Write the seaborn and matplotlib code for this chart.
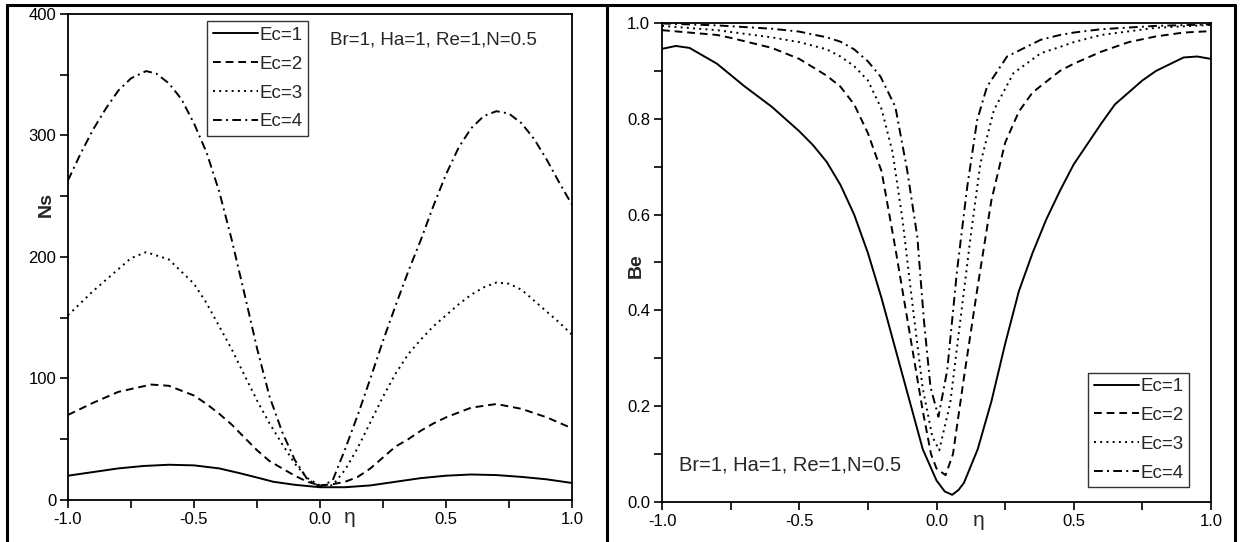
import numpy as np
import pandas as pd
import matplotlib
matplotlib.use("Agg")
import matplotlib.pyplot as plt
from matplotlib.lines import Line2D
import seaborn as sns

# ---------------- data ----------------
labels = ["Ec=1", "Ec=2", "Ec=3", "Ec=4"]
annot = "Br=1, Ha=1, Re=1,N=0.5"

# Left panel: Ns vs eta
ns_eta_1 = [-1.0, -0.9, -0.8, -0.7, -0.6, -0.5, -0.4, -0.317, -0.25, -0.185, -0.1, 0.0, 0.1, 0.2, 0.3, 0.4, 0.5, 0.6, 0.7, 0.8, 0.9, 1.0]
ns_val_1 = [20, 23, 26, 28, 29, 28.5, 26, 22, 18.5, 15, 12.5, 10.5, 10.5, 12, 15, 18, 20, 21, 20.5, 19, 17, 14]

ns_eta_2 = [-1.0, -0.9, -0.8, -0.67, -0.6, -0.5, -0.45, -0.4, -0.35, -0.317, -0.25, -0.2, -0.15, -0.1, -0.05, 0.0, 0.05, 0.1, 0.15, 0.2, 0.25, 0.3, 0.35, 0.4, 0.45, 0.5, 0.6, 0.7, 0.8, 0.9, 1.0]
ns_val_2 = [70, 80, 89, 95, 94, 86, 79, 71, 62, 55, 41, 32, 26, 20, 15, 12, 13, 15, 19, 26, 35, 44, 50, 57, 63, 68, 76, 79, 75, 68, 59]

ns_eta_3 = [-1.0, -0.9, -0.8, -0.75, -0.69, -0.6, -0.5, -0.45, -0.4, -0.35, -0.317, -0.25, -0.2, -0.15, -0.1, -0.05, 0.0, 0.05, 0.1, 0.15, 0.2, 0.25, 0.3, 0.35, 0.4, 0.45, 0.5, 0.55, 0.6, 0.65, 0.7, 0.75, 0.8, 0.85, 0.9, 0.95, 1.0]
ns_val_3 = [152, 172, 190, 199, 204, 198, 178, 162, 143, 124, 110, 82, 63, 46, 30, 18, 12, 12, 25, 43, 64, 85, 104, 120, 132, 143, 152, 161, 169, 175, 179, 178, 173, 164, 155, 146, 136]

ns_eta_4 = [-1.0, -0.95, -0.9, -0.85, -0.8, -0.75, -0.69, -0.65, -0.6, -0.55, -0.5, -0.45, -0.4, -0.35, -0.3, -0.25, -0.2, -0.15, -0.1, -0.05, 0.0, 0.05, 0.1, 0.15, 0.2, 0.25, 0.3, 0.35, 0.4, 0.45, 0.5, 0.55, 0.6, 0.65, 0.7, 0.75, 0.8, 0.85, 0.9, 0.95, 1.0]
ns_val_4 = [263, 285, 305, 322, 337, 347, 353, 351, 343, 330, 310, 286, 254, 214, 170, 125, 85, 56, 33, 17, 11, 16, 42, 70, 100, 131, 160, 188, 214, 242, 268, 290, 306, 316, 320, 318, 310, 297, 280, 261, 243]

# Right panel: Be vs eta
be_eta_1 = [-1.0, -0.95, -0.9, -0.8, -0.7, -0.6, -0.5, -0.45, -0.4, -0.35, -0.3, -0.25, -0.2, -0.15, -0.1, -0.05, 0.0, 0.03, 0.057, 0.08, 0.1, 0.15, 0.2, 0.25, 0.3, 0.35, 0.4, 0.45, 0.5, 0.6, 0.65, 0.75, 0.8, 0.9, 0.95, 1.0]
be_val_1 = [0.946, 0.952, 0.948, 0.915, 0.868, 0.825, 0.774, 0.745, 0.71, 0.662, 0.6, 0.52, 0.425, 0.32, 0.215, 0.11, 0.045, 0.022, 0.015, 0.025, 0.04, 0.11, 0.21, 0.33, 0.44, 0.52, 0.59, 0.65, 0.705, 0.79, 0.83, 0.88, 0.9, 0.928, 0.93, 0.925]

be_eta_2 = [-1.0, -0.8, -0.75, -0.6, -0.5, -0.4, -0.35, -0.3, -0.25, -0.2, -0.15, -0.1, -0.05, -0.02, 0.0, 0.033, 0.06, 0.1, 0.15, 0.2, 0.25, 0.3, 0.35, 0.45, 0.5, 0.6, 0.7, 0.8, 0.9, 1.0]
be_val_2 = [0.985, 0.975, 0.969, 0.948, 0.925, 0.89, 0.867, 0.83, 0.77, 0.69, 0.53, 0.36, 0.19, 0.10, 0.07, 0.056, 0.1, 0.26, 0.45, 0.63, 0.75, 0.815, 0.855, 0.9, 0.915, 0.94, 0.96, 0.972, 0.98, 0.983]

be_eta_3 = [-1.0, -0.8, -0.6, -0.5, -0.4, -0.35, -0.3, -0.25, -0.2, -0.16, -0.124, -0.088, -0.051, -0.015, 0.01, 0.05, 0.087, 0.124, 0.16, 0.209, 0.28, 0.38, 0.45, 0.5, 0.6, 0.8, 1.0]
be_val_3 = [0.994, 0.985, 0.97, 0.96, 0.945, 0.93, 0.91, 0.88, 0.82, 0.73, 0.59, 0.415, 0.24, 0.136, 0.108, 0.207, 0.38, 0.553, 0.707, 0.818, 0.895, 0.937, 0.95, 0.96, 0.975, 0.99, 0.996]

be_eta_4 = [-1.0, -0.8, -0.6, -0.5, -0.4, -0.35, -0.3, -0.25, -0.204, -0.15, -0.107, -0.07, -0.046, -0.022, 0.007, 0.039, 0.075, 0.112, 0.148, 0.184, 0.257, 0.38, 0.45, 0.5, 0.6, 0.8, 1.0]
be_val_4 = [0.999, 0.995, 0.988, 0.982, 0.97, 0.961, 0.945, 0.92, 0.888, 0.825, 0.693, 0.554, 0.38, 0.24, 0.178, 0.275, 0.484, 0.658, 0.797, 0.867, 0.93, 0.965, 0.975, 0.98, 0.987, 0.994, 0.997]

x_ticks = [-1.0, -0.5, 0.0, 0.5, 1.0]
ns_ticks = [0, 100, 200, 300, 400]
be_ticks = [0.0, 0.2, 0.4, 0.6, 0.8, 1.0]

# ---------------- style ----------------
sns.set_style("ticks")
plt.rcParams['font.family'] = ['Liberation Sans', 'DejaVu Sans']
plt.rcParams['axes.linewidth'] = 1.3

dash_styles = [None, (4, 2.5), (1, 2.2), (4.5, 2.2, 1, 2.2)]
LW = 1.4

def frame(eta_list, val_list):
    rows = []
    for lab, e, v in zip(labels, eta_list, val_list):
        rows.append(pd.DataFrame({"eta": e, "val": v, "Ec": lab}))
    return pd.concat(rows, ignore_index=True)

ns_df = frame([ns_eta_1, ns_eta_2, ns_eta_3, ns_eta_4], [ns_val_1, ns_val_2, ns_val_3, ns_val_4])
be_df = frame([be_eta_1, be_eta_2, be_eta_3, be_eta_4], [be_val_1, be_val_2, be_val_3, be_val_4])

fig = plt.figure(figsize=(12.4, 5.42), dpi=100)
axL = fig.add_axes([0.0548, 0.0775, 0.4065, 0.8967])
axR = fig.add_axes([0.5339, 0.0738, 0.4427, 0.8838])

def draw(ax, df):
    handles = []
    for lab, ds in zip(labels, dash_styles):
        sub = df[df["Ec"] == lab]
        sns.lineplot(data=sub, x="eta", y="val", ax=ax, color="black", lw=LW,
                     sort=False, estimator=None, legend=False)
        ln = ax.lines[-1]
        if ds is not None:
            ln.set_dashes(ds)
        h = Line2D([], [], color="black", lw=LW)
        if ds is not None:
            h.set_dashes(ds)
        handles.append(h)
    return handles

hL = draw(axL, ns_df)
hR = draw(axR, be_df)

for ax in (axL, axR):
    ax.set_xlim(-1.0, 1.0)
    ax.set_xticks(x_ticks)
    ax.set_xticklabels([f"{t:.1f}" for t in x_ticks])
    ax.set_xticks(np.arange(-0.75, 1.0, 0.5), minor=True)
    for s in ax.spines.values():
        s.set_visible(True)
        s.set_color("black")
        s.set_linewidth(1.3)
    ax.tick_params(which="both", direction="out", length=5.5, width=1.2,
                   labelsize=12, colors="black", top=False, right=False, pad=3)

axL.set_ylim(0, 400)
axL.set_yticks(ns_ticks)
axL.set_yticklabels([str(t) for t in ns_ticks])
axL.set_yticks(np.arange(50, 400, 100), minor=True)

axR.set_ylim(0, 1.0)
axR.set_yticks(be_ticks)
axR.set_yticklabels([f"{t:.1f}" for t in be_ticks])
axR.set_yticks(np.arange(0.1, 1.0, 0.2), minor=True)

axL.set_xlabel("η", fontsize=15)
axL.xaxis.set_label_coords(0.56, -0.016)
axR.set_xlabel("η", fontsize=15)
axR.xaxis.set_label_coords(0.577, -0.018)

axL.set_ylabel("Ns", fontsize=14, fontweight="bold")
axL.yaxis.set_label_coords(-0.026, 0.609)
axR.set_ylabel("Be", fontsize=14, fontweight="bold")
axR.yaxis.set_label_coords(-0.031, 0.493)

leg_kw = dict(frameon=True, fancybox=False, fontsize=13.5, handlelength=2.4,
              handletextpad=0.1, labelspacing=0.62, borderpad=0.3,
              borderaxespad=0.0)
legL = axL.legend(hL, labels, loc="upper left", bbox_to_anchor=(0.276, 0.985), **leg_kw)
legR = axR.legend(hR, labels, loc="lower left", bbox_to_anchor=(0.776, 0.031), **leg_kw)
for lg in (legL, legR):
    lg.get_frame().set_edgecolor("black")
    lg.get_frame().set_linewidth(1.0)

axL.text(0.52, 0.947, annot, transform=axL.transAxes, fontsize=13.5,
         ha="left", va="center")
axR.text(0.03, 0.077, annot, transform=axR.transAxes, fontsize=14.5,
         ha="left", va="center")

# outer frame and divider
fw = 2.2
for xs, ys in [([0.0056, 0.0056], [0.0, 0.991]),
               ([0.0056, 0.996], [0.991, 0.991]),
               ([0.996, 0.996], [0.0, 0.991]),
               ([0.4895, 0.4895], [0.0, 0.991])]:
    fig.add_artist(Line2D(xs, ys, color="black", lw=fw, transform=fig.transFigure))

fig.savefig("out.png", dpi=100)
